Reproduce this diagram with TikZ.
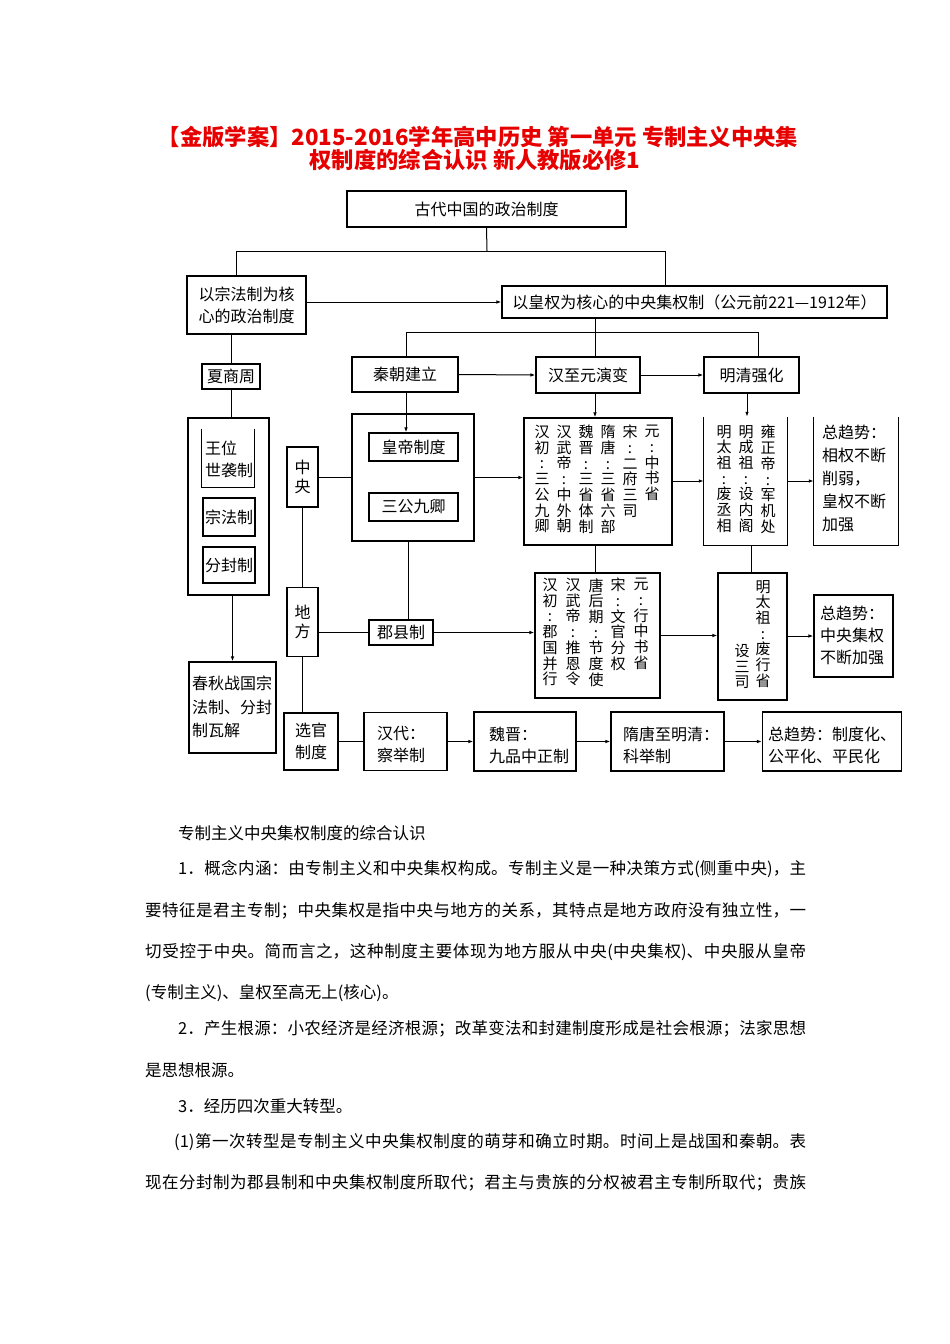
\documentclass[tikz,border=0pt]{standalone}
\usepackage{fontspec}
\setmainfont{Noto Sans CJK SC}
\usetikzlibrary{arrows.meta}
\XeTeXlinebreaklocale "zh"
\XeTeXlinebreakskip=0pt plus 3pt minus 0.5pt
\definecolor{titlered}{RGB}{230,0,0}
\newcommand\dfont{\fontsize{16}{22}\selectfont}
\newcommand\vfont{\fontsize{15}{15.7}\selectfont}
\newcommand\bodyfont{\fontsize{16.5}{20}\selectfont}
\newcommand\ttlfont{\fontsize{22.3}{26}\selectfont\bfseries}
\newcommand\jline[2]{\parbox{#1}{\parfillskip=0pt\relax\emergencystretch=20pt #2}}
\tikzset{
  box/.style={draw, line width=1.1pt, inner sep=0pt, align=center, font=\dfont},
  nobox/.style={inner sep=0pt, align=center, font=\dfont},
  txt/.style={inner sep=0pt, align=left, font=\dfont},
  vc/.style={inner sep=0pt, align=center, font=\vfont, anchor=north},
  ln/.style={line width=1pt},
  arr/.style={line width=1pt, -{Latex[length=5pt,width=3.5pt]}},
  body/.style={inner sep=0pt, anchor=west, font=\bodyfont}
}
\begin{document}
\begin{tikzpicture}[x=1pt,y=-1pt]
\useasboundingbox[fill=white] (0,0) rectangle (950,1344);

% title
\node[inner sep=0pt, font=\ttlfont, text=titlered] (t1) at (478,137) {【金版学案】2015-2016学年高中历史 第一单元 专制主义中央集};
\node[inner sep=0pt, font=\ttlfont, text=titlered] (t2) at (475,160) {权制度的综合认识 新人教版必修1};

% top level
\node[box, minimum width=279pt, minimum height=36pt] (top) at (486.5,209) {古代中国的政治制度};
\node[box, minimum width=119pt, minimum height=58pt] (zf) at (246.5,305) {以宗法制为核\\心的政治制度};
\node[box, minimum width=385pt, minimum height=32pt] (hq) at (694.5,302) {以皇权为核心的中央集权制（公元前221—1912年）};

\coordinate (j1) at (487,251);
\coordinate (j1l) at (236,251);
\coordinate (j1r) at (665,251);
\draw[ln] (top.south) -- (j1);
\draw[ln] (j1l) -- (j1r);
\draw[ln] (j1l) -- (zf.north -| j1l);
\draw[ln] (j1r) -- (hq.north -| j1r);
\draw[arr] (zf.east |- hq.west) -- (hq.west);

% second level
\node[box, minimum width=106pt, minimum height=35pt] (qin) at (405,374.5) {秦朝建立};
\node[box, minimum width=104pt, minimum height=36pt] (han) at (588,375) {汉至元演变};
\node[box, minimum width=95pt, minimum height=36pt] (ming) at (751.5,375) {明清强化};

\coordinate (j2) at (595,332);
\coordinate (j2l) at (406,332);
\coordinate (j2r) at (758,332);
\draw[ln] (hq.south -| j2) -- (j2);
\draw[ln] (j2l) -- (j2r);
\draw[ln] (j2l) -- (qin.north -| j2l);
\draw[ln] (j2) -- (han.north -| j2);
\draw[ln] (j2r) -- (ming.north -| j2r);
\draw[arr] (qin.east) -- (han.west);
\draw[arr] (han.east) -- (ming.west);

% left column
\node[box, minimum width=58pt, minimum height=25pt] (xsz) at (231,376.5) {夏商周};
\node[box, minimum width=81pt, minimum height=177pt] (lbig) at (228.5,506.5) {};
\node[nobox, minimum width=52pt, minimum height=58pt] (ww) at (228,458) {};
\draw[line width=1.1pt] (ww.north west) -- (ww.south west) -- (ww.south east) -- (ww.north east);
\node[txt, anchor=west] (wwt) at (205,459) {王位\\世袭制};
\node[box, minimum width=52pt, minimum height=38pt] (zfz) at (229,517) {宗法制};
\node[box, minimum width=52pt, minimum height=36pt] (ffz) at (229,565) {分封制};
\node[box, minimum width=87pt, minimum height=91pt] (cq) at (232.5,707.5) {};
\node[txt, anchor=west, font=\fontsize{16}{23.5}\selectfont] (cqt) at (192,707) {春秋战国宗\\法制、分封\\制瓦解};

\coordinate (lx) at (231,0);
\draw[ln] (zf.south -| lx) -- (xsz.north -| lx);
\draw[ln] (xsz.south -| lx) -- (lbig.north -| lx);
\draw[arr] (lbig.south -| cq) -- (cq.north);

% Qin block
\node[box, minimum width=31pt, minimum height=60pt, font=\fontsize{16}{19}\selectfont] (zy) at (302.5,477) {中\\央};
\node[box, minimum width=31pt, minimum height=69pt, font=\fontsize{16}{19}\selectfont] (df) at (302.5,622) {地\\方};
\node[box, minimum width=122pt, minimum height=127pt] (qbig) at (413,477.5) {};
\node[box, minimum width=89pt, minimum height=28pt] (hd) at (413.5,447) {皇帝制度};
\node[box, minimum width=89pt, minimum height=28pt] (sg) at (413.5,507) {三公九卿};
\node[box, minimum width=64pt, minimum height=25pt] (jx) at (401,632.5) {郡县制};

\draw[arr] (qin.south -| j2l) -- (hd.north -| j2l);
\draw[ln] (zy.east) -- (qbig.west |- zy.east);
\draw[ln] (zy.south) -- (df.north);
\coordinate (qx) at (408,0);
\draw[ln] (qbig.south -| qx) -- (jx.north -| qx);
\draw[ln] (df.east |- jx.west) -- (jx.west);

% middle column
\node[box, minimum width=148pt, minimum height=127pt] (up) at (598,481.5) {};
\node[vc] (u1) at (542,425) {汉\\初\\:\\三\\公\\九\\卿};
\node[vc] (u2) at (564,425) {汉\\武\\帝\\:\\中\\外\\朝};
\node[vc] (u3) at (586,425) {魏\\晋\\:\\三\\省\\体\\制};
\node[vc] (u4) at (608,425) {隋\\唐\\:\\三\\省\\六\\部};
\node[vc] (u5) at (630,425) {宋\\:\\二\\府\\三\\司};
\node[vc] (u6) at (652,425) {元\\:\\中\\书\\省};

\node[box, minimum width=125pt, minimum height=125pt] (low) at (597.5,635.5) {};
\node[vc] (l1) at (550,578) {汉\\初\\:\\郡\\国\\并\\行};
\node[vc] (l2) at (573,578) {汉\\武\\帝\\:\\推\\恩\\令};
\node[vc] (l3) at (596,578) {唐\\后\\期\\:\\节\\度\\使};
\node[vc] (l4) at (618,578) {宋\\:\\文\\官\\分\\权};
\node[vc] (l5) at (641,578) {元\\:\\行\\中\\书\\省};

\draw[arr] (han.south -| j2) -- (up.north -| j2);
\draw[ln] (up.south -| j2) -- (low.north -| j2);
\draw[arr] (qbig.east) -- (up.west |- qbig.east);
\draw[arr] (jx.east) -- (low.west |- jx.east);

% Ming column
\node[nobox, minimum width=83pt, minimum height=128pt] (mu) at (745.5,481) {};
\draw[line width=1.1pt] (mu.north west) -- (mu.south west) -- (mu.south east) -- (mu.north east);
\node[vc] (m1) at (724,425) {明\\太\\祖\\:\\废\\丞\\相};
\node[vc] (m2) at (746,425) {明\\成\\祖\\:\\设\\内\\阁};
\node[vc] (m3) at (768,425) {雍\\正\\帝\\:\\军\\机\\处};

\node[box, minimum width=69pt, minimum height=127pt] (ml) at (752.5,636.5) {};
\node[vc] (ml1) at (763,580) {明\\太\\祖\\:\\废\\行\\省};
\node[vc, anchor=south] (ml2) at (742,689) {设\\三\\司};

\coordinate (mx) at (747,0);
\coordinate (mx2) at (751,0);
\draw[arr] (ming.south -| mx) -- (mu.north -| mx);
\draw[ln] (mu.south -| mx2) -- (ml.north -| mx2);
\draw[arr] (up.east |- mu.west) -- (mu.west);
\draw[arr] (low.east) -- (ml.west |- low.east);

% trend boxes right
\node[nobox, minimum width=84pt, minimum height=128pt] (tr1) at (856,481) {};
\draw[line width=1.1pt] (tr1.north west) -- (tr1.south west) -- (tr1.south east) -- (tr1.north east);
\node[txt, anchor=north west, font=\fontsize{16}{23}\selectfont] (tr1t) at (822,425) {总趋势：\\相权不断\\削弱，\\皇权不断\\加强};
\draw[arr] (mu.east |- tr1.west) -- (tr1.west);

\node[box, minimum width=79pt, minimum height=82pt] (tr2) at (853.5,636) {};
\node[txt, anchor=west, font=\fontsize{16}{22}\selectfont] (tr2t) at (820,635) {总趋势：\\中央集权\\不断加强};
\draw[arr] (ml.east |- tr2.west) -- (tr2.west);

% bottom row
\node[box, minimum width=54pt, minimum height=57pt] (xg) at (311,741.5) {选官\\制度};
\node[box, minimum width=83pt, minimum height=58pt] (hdai) at (405.5,741.5) {};
\node[txt, anchor=west] at (377,744) {汉代：\\察举制};
\node[box, minimum width=102pt, minimum height=59pt] (wj) at (525,741.5) {};
\node[txt, anchor=west] at (489,745) {魏晋：\\九品中正制};
\node[box, minimum width=113pt, minimum height=59pt] (st) at (667.5,741.5) {};
\node[txt, anchor=west] at (623,745) {隋唐至明清：\\科举制};
\node[box, minimum width=139pt, minimum height=59pt] (tr3) at (832,741.5) {};
\node[txt, anchor=west] at (768,745) {总趋势：制度化、\\公平化、平民化};

\draw[ln] (df.south) -- (xg.north -| df.south);
\draw[ln] (xg.east) -- (hdai.west);
\draw[arr] (hdai.east) -- (wj.west);
\draw[arr] (wj.east) -- (st.west);
\draw[arr] (st.east) -- (tr3.west);

% body text
\node[body] (p0) at (178,833) {专制主义中央集权制度的综合认识};
\node[body] (p1) at (178,869) {\jline{628pt}{1．概念内涵：由专制主义和中央集权构成。专制主义是一种决策方式(侧重中央)，主}};
\node[body] (p2) at (145,911) {\jline{661pt}{要特征是君主专制；中央集权是指中央与地方的关系，其特点是地方政府没有独立性，一}};
\node[body] (p3) at (145,952) {\jline{661pt}{切受控于中央。简而言之，这种制度主要体现为地方服从中央(中央集权)、中央服从皇帝}};
\node[body] (p4) at (145,993) {(专制主义)、皇权至高无上(核心)。};
\node[body] (p5) at (178,1029) {\jline{628pt}{2．产生根源：小农经济是经济根源；改革变法和封建制度形成是社会根源；法家思想}};
\node[body] (p6) at (145,1070) {是思想根源。};
\node[body] (p7) at (178,1106) {3．经历四次重大转型。};
\node[body] (p8) at (174,1142) {\jline{632pt}{(1)第一次转型是专制主义中央集权制度的萌芽和确立时期。时间上是战国和秦朝。表}};
\node[body] (p9) at (145,1183) {\jline{661pt}{现在分封制为郡县制和中央集权制度所取代；君主与贵族的分权被君主专制所取代；贵族}};
\end{tikzpicture}
\end{document}
